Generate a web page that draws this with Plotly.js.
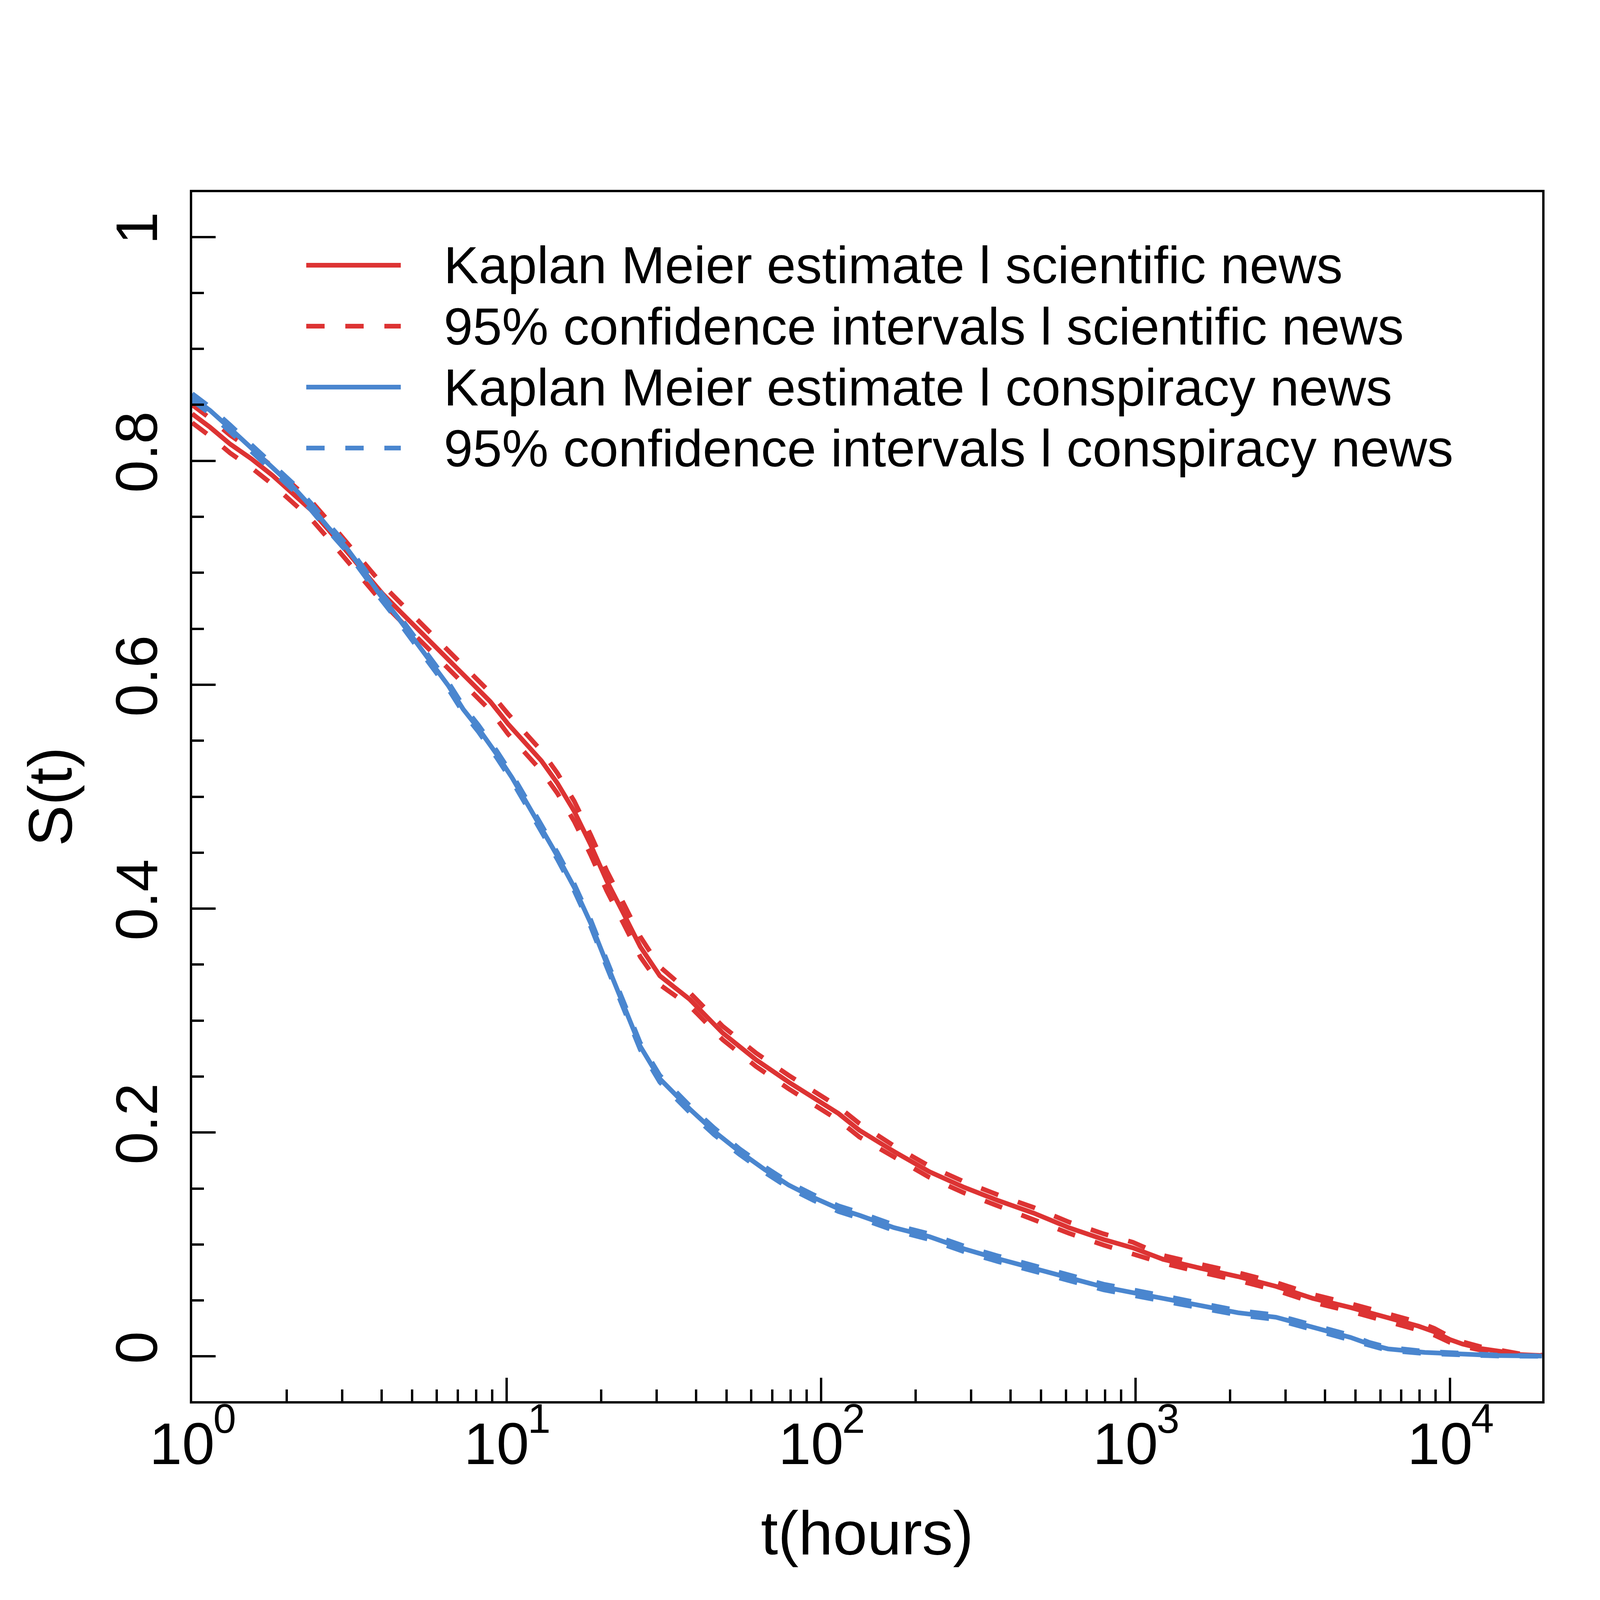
<!DOCTYPE html>
<html>
<head>
<meta charset="utf-8">
<script src="https://cdn.plot.ly/plotly-3.0.1.min.js"></script>
<style>html,body{margin:0;padding:0;background:#fff}</style>
</head>
<body>
<div id="chart" style="width:4200px;height:4200px"></div>
<script>
// ---- data ----
const sciTime = [1,1.14,1.32,1.54,1.80,2.09,2.39,2.72,3.10,3.54,4.04,4.60,5.25,6.00,6.82,7.78,8.87,10.1,11.5,12.9,14.5,16.4,18.5,20.8,23.6,26.6,30.7,38.2,48.6,62.1,78.9,113.5,132.4,170.6,220.8,285.1,367.3,474.2,613.8,790.7,979.5,1224,1611,2118,2793,3664,4819,6339,7080,7943,8913,10000,10965,12560,14420,16520,19600];
const sciSurv = [0.842,0.830,0.815,0.802,0.787,0.770,0.756,0.738,0.719,0.700,0.681,0.665,0.649,0.633,0.617,0.601,0.585,0.565,0.548,0.532,0.512,0.487,0.457,0.425,0.395,0.366,0.340,0.319,0.289,0.265,0.245,0.217,0.202,0.183,0.165,0.151,0.139,0.128,0.115,0.1045,0.097,0.0867,0.0787,0.0713,0.0626,0.0518,0.0437,0.035,0.031,0.027,0.022,0.015,0.011,0.007,0.0045,0.0017,0.0007];
const sciUpper = [0.850,0.838,0.823,0.810,0.795,0.778,0.764,0.746,0.727,0.708,0.689,0.673,0.657,0.641,0.625,0.609,0.593,0.574,0.557,0.541,0.521,0.496,0.466,0.434,0.404,0.375,0.348,0.325,0.295,0.271,0.251,0.223,0.208,0.188,0.170,0.156,0.144,0.133,0.120,0.1095,0.102,0.0902,0.0822,0.0748,0.0661,0.0553,0.0472,0.0385,0.0345,0.0305,0.025,0.0175,0.013,0.0085,0.0055,0.0025,0.0012];
const sciLower = [0.834,0.822,0.807,0.794,0.779,0.762,0.748,0.730,0.711,0.692,0.673,0.657,0.641,0.625,0.609,0.593,0.577,0.556,0.539,0.523,0.503,0.478,0.448,0.416,0.386,0.357,0.332,0.313,0.283,0.259,0.239,0.211,0.196,0.178,0.160,0.146,0.134,0.123,0.110,0.0995,0.092,0.0832,0.0752,0.0678,0.0591,0.0483,0.0402,0.0315,0.0275,0.0235,0.019,0.0125,0.009,0.0055,0.0035,0.0009,0.0002];

const consTime = [1,1.14,1.32,1.54,1.80,2.09,2.39,2.72,3.10,3.54,3.94,4.51,5.14,5.73,6.53,7.28,8.13,9.29,10.4,11.5,12.9,14.5,16.4,18.5,20.8,23.6,26.6,30.7,38.2,45.7,55.0,66.1,78.9,94.4,113.5,132.4,170.6,220.8,285.1,367.3,474.2,613.8,790.7,979.5,1224,1611,2118,2793,3664,4819,5534,6339,8318,10965,14420,19600];
const consSurv = [0.857,0.845,0.829,0.811,0.794,0.777,0.759,0.740,0.722,0.700,0.681,0.660,0.639,0.620,0.599,0.578,0.561,0.538,0.517,0.496,0.472,0.447,0.419,0.387,0.351,0.313,0.277,0.248,0.221,0.201,0.183,0.167,0.153,0.142,0.132,0.126,0.115,0.107,0.096,0.087,0.0787,0.070,0.062,0.057,0.0517,0.0455,0.039,0.035,0.026,0.017,0.011,0.0067,0.0035,0.0017,0.0007,0.0003];
const consUpper = [0.860,0.848,0.832,0.814,0.797,0.780,0.762,0.743,0.725,0.703,0.684,0.663,0.642,0.623,0.602,0.581,0.564,0.541,0.520,0.499,0.475,0.450,0.422,0.390,0.354,0.316,0.280,0.251,0.224,0.204,0.1855,0.1695,0.1555,0.1445,0.1345,0.1285,0.1175,0.1095,0.0985,0.0895,0.0812,0.0725,0.0645,0.0595,0.0537,0.0475,0.041,0.037,0.028,0.019,0.0125,0.0080,0.0045,0.0024,0.0011,0.0005];
const consLower = [0.854,0.842,0.826,0.808,0.791,0.774,0.756,0.737,0.719,0.697,0.678,0.657,0.636,0.617,0.596,0.575,0.558,0.535,0.514,0.493,0.469,0.444,0.416,0.384,0.348,0.310,0.274,0.245,0.218,0.198,0.1805,0.1645,0.1505,0.1395,0.1295,0.1235,0.1125,0.1045,0.0935,0.0845,0.0762,0.0675,0.0595,0.0545,0.0497,0.0435,0.037,0.033,0.024,0.015,0.0095,0.0054,0.0025,0.0010,0.0003,0.0001];

const xTickVals = [1,10,100,1000,10000];
const xTickText = ['10','10','10','10','10'];
const xTickExp = ['0','1','2','3','4'];
const xMinorVals = [2,3,4,5,6,7,8,9,20,30,40,50,60,70,80,90,200,300,400,500,600,700,800,900,2000,3000,4000,5000,6000,7000,8000,9000];

const legendLabels = [
  'Kaplan Meier estimate l scientific news',
  '95% confidence intervals l scientific news',
  'Kaplan Meier estimate l conspiracy news',
  '95% confidence intervals l conspiracy news'
];

// ---- styles ----
const RED = '#DD3333', BLUE = '#4A86CF';
const LW = 12, DASH = '47px,53px';
const FONT = 'Liberation Sans, Arial, Helvetica, sans-serif';

// plot box in pixels
const W = 4200, H = 4200, PL = 492, PR = 3948, PT = 492, PB = 3587;
const px2x = p => (p - PL) / (PR - PL);
const px2y = p => (PB - p) / (PB - PT);

const traces = [
  {x: sciTime, y: sciSurv, mode: 'lines', line: {color: RED, width: LW}, name: legendLabels[0]},
  {x: sciTime, y: sciUpper, mode: 'lines', line: {color: RED, width: LW, dash: DASH}, name: legendLabels[1]},
  {x: sciTime, y: sciLower, mode: 'lines', line: {color: RED, width: LW, dash: DASH}, name: legendLabels[1]},
  {x: consTime, y: consSurv, mode: 'lines', line: {color: BLUE, width: LW}, name: legendLabels[2]},
  {x: consTime, y: consUpper, mode: 'lines', line: {color: BLUE, width: LW, dash: DASH}, name: legendLabels[3]},
  {x: consTime, y: consLower, mode: 'lines', line: {color: BLUE, width: LW, dash: DASH}, name: legendLabels[3]}
];

// manual legend (long R-style line samples)
const rowY = [679, 835, 991, 1147];
const rowColor = [RED, RED, BLUE, BLUE];
const rowDash = ['solid', DASH, 'solid', DASH];
const shapes = [];
const annotations = [];
for (let i = 0; i < 4; i++) {
  shapes.push({type: 'line', xref: 'paper', yref: 'paper',
    x0: px2x(784), x1: px2x(1026), y0: px2y(rowY[i]), y1: px2y(rowY[i]),
    line: {color: rowColor[i], width: LW, dash: rowDash[i]}});
  annotations.push({xref: 'paper', yref: 'paper', x: px2x(1134), y: px2y(rowY[i]),
    xanchor: 'left', yanchor: 'middle', showarrow: false, text: legendLabels[i],
    font: {family: FONT, size: 134, color: '#000'}});
}
// exponents of the x tick labels (10^n)
for (let i = 0; i < xTickVals.length; i++) {
  annotations.push({xref: 'x', yref: 'paper', x: Math.log10(xTickVals[i]), y: px2y(3632),
    xanchor: 'center', yanchor: 'middle', xshift: 83, showarrow: false, text: xTickExp[i],
    font: {family: FONT, size: 105, color: '#000'}});
}

const axisCommon = {
  showline: true, linewidth: 6, linecolor: '#000', mirror: true,
  showgrid: false, zeroline: false, ticks: 'inside', ticklen: 60, tickwidth: 6, tickcolor: '#000',
  tickfont: {family: FONT, size: 150, color: '#000'}, automargin: false
};

const layout = {
  width: W, height: H,
  margin: {l: PL, r: W - PR, t: PT, b: H - PB, pad: 0},
  paper_bgcolor: '#fff', plot_bgcolor: '#fff',
  showlegend: false,
  font: {family: FONT, color: '#000'},
  xaxis: Object.assign({}, axisCommon, {
    type: 'log', range: [0, 4.293],
    tickmode: 'array', tickvals: xTickVals, ticktext: xTickText,
    ticklabelstandoff: -25, ticklabelshift: -26,
    minor: {tickmode: 'array', tickvals: xMinorVals, ticks: 'inside', ticklen: 30, tickwidth: 6, tickcolor: '#000', showgrid: false},
    title: {text: 't(hours)', font: {family: FONT, size: 158, color: '#000'}, standoff: 91}
  }),
  yaxis: Object.assign({}, axisCommon, {
    range: [-0.04, 1.04], tickmode: 'linear', tick0: 0, dtick: 0.2, tickangle: -90,
    ticklabelstandoff: 24,
    minor: {tickmode: 'linear', tick0: 0, dtick: 0.05, ticks: 'inside', ticklen: 30, tickwidth: 6, tickcolor: '#000', showgrid: false},
    title: {text: 'S(t)', font: {family: FONT, size: 158, color: '#000'}, standoff: 31}
  }),
  shapes: shapes,
  annotations: annotations
};

Plotly.newPlot('chart', traces, layout, {displayModeBar: false, staticPlot: true});
</script>
</body>
</html>
